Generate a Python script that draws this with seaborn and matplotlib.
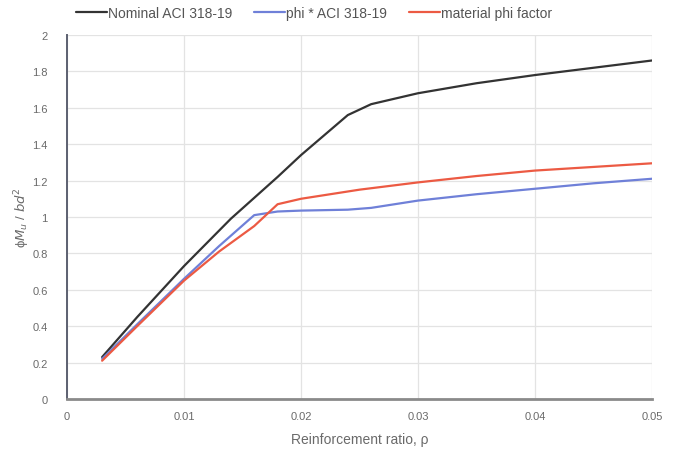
import matplotlib
matplotlib.use("Agg")
import matplotlib.pyplot as plt
import seaborn as sns
import pandas as pd

# Reinforcement ratio and normalized moment capacity for each design approach
rho_nominal = [0.003, 0.006, 0.010, 0.014, 0.018, 0.020, 0.022, 0.024, 0.026, 0.030, 0.035, 0.040, 0.045, 0.050]
m_nominal = [0.23, 0.45, 0.73, 0.99, 1.22, 1.34, 1.45, 1.56, 1.62, 1.68, 1.735, 1.78, 1.82, 1.86]

rho_phi = [0.003, 0.006, 0.010, 0.013, 0.016, 0.018, 0.020, 0.024, 0.026, 0.030, 0.035, 0.040, 0.045, 0.050]
m_phi = [0.22, 0.41, 0.66, 0.84, 1.01, 1.03, 1.035, 1.04, 1.05, 1.09, 1.125, 1.155, 1.185, 1.21]

rho_material = [0.003, 0.006, 0.010, 0.013, 0.016, 0.018, 0.020, 0.025, 0.030, 0.035, 0.040, 0.045, 0.050]
m_material = [0.21, 0.40, 0.65, 0.81, 0.95, 1.07, 1.10, 1.15, 1.19, 1.225, 1.255, 1.275, 1.295]

series_names = ["Nominal ACI 318-19", "phi * ACI 318-19", "material phi factor"]
series_colors = ["#333333", "#6f80d8", "#ec5a43"]

frames = []
for name, xs, ys in zip(series_names,
                        [rho_nominal, rho_phi, rho_material],
                        [m_nominal, m_phi, m_material]):
    frames.append(pd.DataFrame({"rho": xs, "m": ys, "series": name}))
df = pd.concat(frames, ignore_index=True)

sns.set_style("white")
plt.rcParams["font.family"] = ["Liberation Sans", "DejaVu Sans"]

fig = plt.figure(figsize=(6.77, 4.56), dpi=100)
ax = fig.add_axes([0.099, 0.123, 0.864, 0.798])

sns.lineplot(data=df, x="rho", y="m", hue="series", hue_order=series_names,
             palette=dict(zip(series_names, series_colors)), sort=False,
             estimator=None, linewidth=1.6, ax=ax)

ax.set_xlim(0, 0.05)
ax.set_ylim(0, 2)
ax.set_xticks([0, 0.01, 0.02, 0.03, 0.04, 0.05])
ax.set_xticklabels(["0", "0.01", "0.02", "0.03", "0.04", "0.05"])
ax.set_yticks([0, 0.2, 0.4, 0.6, 0.8, 1, 1.2, 1.4, 1.6, 1.8, 2])
ax.set_yticklabels(["0", "0.2", "0.4", "0.6", "0.8", "1", "1.2", "1.4", "1.6", "1.8", "2"])

ax.grid(True, color="#e3e3e3", linewidth=0.9)
ax.set_axisbelow(True)

for side in ["top", "right"]:
    ax.spines[side].set_visible(False)
ax.spines["left"].set_color("#5c6070")
ax.spines["left"].set_linewidth(1.4)
ax.spines["bottom"].set_color("#8a8a8a")
ax.spines["bottom"].set_linewidth(2.0)

ax.tick_params(axis="x", direction="inout", length=5, width=1, color="#8a8a8a",
               labelsize=8, labelcolor="#6a6a6a", pad=6)
ax.tick_params(axis="y", length=0, labelsize=8, labelcolor="#6a6a6a", pad=14)

ax.set_xlabel("Reinforcement ratio, ρ", fontsize=10, color="#6a6a6a", labelpad=8)
ax.set_ylabel(r"ϕ$M_u$ / $bd^2$", fontsize=9.5, color="#6a6a6a", labelpad=0)

leg = fig.legend(*ax.get_legend_handles_labels(), loc="center left",
                 bbox_to_anchor=(76 / 677, 1 - 14 / 456), ncol=3, frameon=False,
                 fontsize=10, handlelength=2.2, handletextpad=0.1, columnspacing=1.6,
                 borderaxespad=0, borderpad=0)
ax.get_legend().remove()
for text in leg.get_texts():
    text.set_color("#555555")

fig.savefig("out.png", dpi=100)
